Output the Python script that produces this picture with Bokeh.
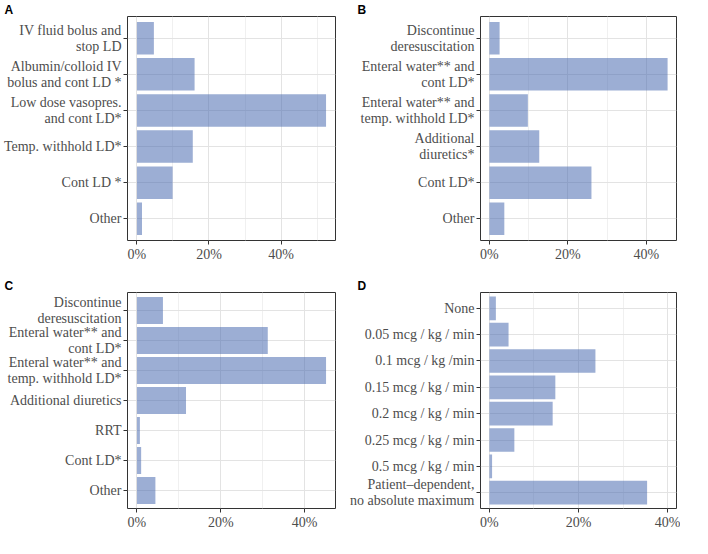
from bokeh.plotting import figure
from bokeh.models import FactorRange, FixedTicker, Range1d, PrintfTickFormatter
from bokeh.layouts import gridplot
from bokeh.embed import file_html
from bokeh.resources import INLINE

# ---- data (percent of respondents) ----
cats_a = ["IV fluid bolus and\nstop LD", "Albumin/colloid IV\nbolus and cont LD *",
          "Low dose vasopres.\nand cont LD*", "Temp. withhold LD*", "Cont LD *", "Other"]
vals_a = [4.7, 16.0, 52.5, 15.5, 9.9, 1.4]

cats_b = ["Discontinue\nderesuscitation", "Enteral water** and\ncont LD*",
          "Enteral water** and\ntemp. withhold LD*", "Additional\ndiuretics*", "Cont LD*", "Other"]
vals_b = [2.6, 45.4, 9.8, 12.7, 26.0, 3.8]

cats_c = ["Discontinue\nderesuscitation", "Enteral water** and\ncont LD*",
          "Enteral water** and\ntemp. withhold LD*", "Additional diuretics", "RRT", "Cont LD*", "Other"]
vals_c = [6.2, 31.2, 45.1, 11.7, 0.7, 1.0, 4.4]

cats_d = ["None", "0.05 mcg / kg / min", "0.1 mcg / kg /min", "0.15 mcg / kg / min",
          "0.2 mcg / kg / min", "0.25 mcg / kg / min", "0.5 mcg / kg / min",
          "Patient\u2013dependent,\nno absolute maximum"]
vals_d = [1.45, 4.3, 23.8, 14.8, 14.2, 5.6, 0.6, 35.4]

x_ticks = [0, 20, 40]
x_minor = [10, 30, 50]
panel_letters = ["A", "B", "C", "D"]
x_limits = [52.5, 45.4, 45.1, 40.0]

SERIF = "Liberation Serif"


def make(cats, vals, xlim, letter, w, h, bl, br, bb, toff):
    pad = 0.05 * xlim
    p = figure(width=w, height=h, output_backend="svg", toolbar_location=None,
               y_range=FactorRange(factors=list(reversed(cats)), range_padding=0.1,
                                   range_padding_units="absolute"),
               x_range=Range1d(-pad, xlim + pad),
               min_border_left=bl, min_border_right=br, min_border_top=0, min_border_bottom=bb,
               title=letter)
    p.title.align = "left"
    p.title.offset = toff
    p.title.standoff = 0
    p.title.text_font = "Liberation Sans"
    p.title.text_font_style = "bold"
    p.title.text_font_size = "12px"
    p.title.text_color = "black"
    p.hbar(y=cats, left=0, right=vals, height=0.9, fill_color="#4A6BB0", fill_alpha=0.55,
           line_color=None)
    p.xaxis.ticker = FixedTicker(ticks=x_ticks, minor_ticks=x_minor)
    p.xaxis.formatter = PrintfTickFormatter(format="%d%%")
    for ax in (p.xaxis, p.yaxis):
        ax.axis_line_color = None
        ax.major_tick_in = 0
        ax.major_tick_out = 4
        ax.minor_tick_in = 0
        ax.minor_tick_out = 0
        ax.major_tick_line_color = "#333333"
        ax.major_label_text_font = SERIF
        ax.major_label_text_font_size = "14px"
        ax.major_label_text_color = "#4D4D4D"
        ax.major_label_text_line_height = 1.05
        ax.major_label_standoff = 2
    p.xgrid.grid_line_color = "#E3E3E3"
    p.xgrid.minor_grid_line_color = "#F0F0F0"
    p.ygrid.grid_line_color = "#E3E3E3"
    p.outline_line_color = "#333333"
    p.outline_line_width = 1
    p.background_fill_color = "white"
    p.border_fill_color = "white"
    return p


pa = make(cats_a, vals_a, x_limits[0], panel_letters[0], 340, 276, 123, 5, 36, -123)
pb = make(cats_b, vals_b, x_limits[1], panel_letters[1], 340, 276, 140, 4, 36, -123)
pc = make(cats_c, vals_c, x_limits[2], panel_letters[2], 340, 256, 123, 5, 16, -123)
pd_ = make(cats_d, vals_d, x_limits[3], panel_letters[3], 340, 256, 140, 4, 16, -123)

layout = gridplot([[pa, pb], [pc, pd_]], toolbar_location=None)
open("out.html", "w").write(file_html(layout, INLINE))
